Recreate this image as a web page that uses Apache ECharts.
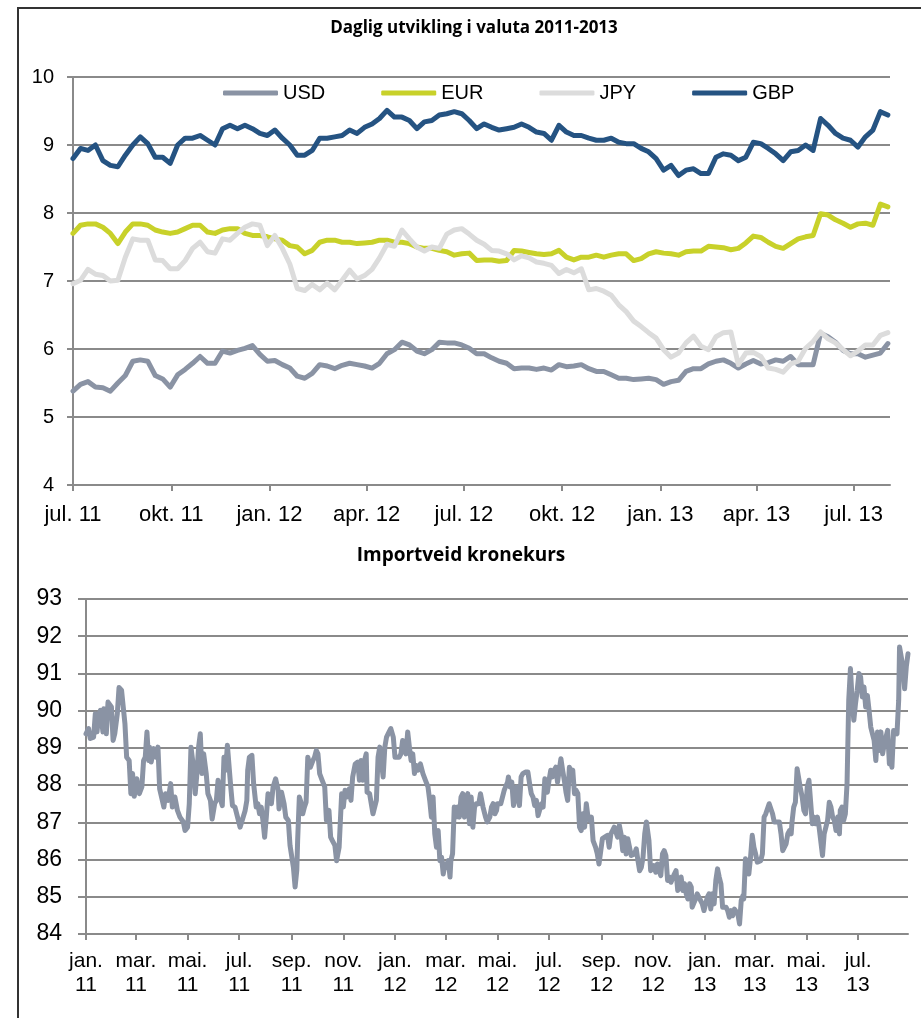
<!DOCTYPE html>
<html>
<head>
<meta charset="utf-8">
<script src="https://cdn.jsdelivr.net/npm/echarts@6/dist/echarts.min.js"></script>
<style>
  html, body { margin: 0; padding: 0; background: #fff; }
  #chart { width: 921px; height: 1018px; }
</style>
</head>
<body>
<div id="chart"></div>
<script>
  // ukentlige noteringer fra 1. juli 2011
  const weekStart = [2011, 6, 1];
  const usd = [
    5.38,5.48,5.52,5.44,5.43,5.38,5.50,5.61,5.82,5.84, 5.82,5.61,5.56,5.44,5.62,5.70,5.79,5.89,5.79,5.79,
    5.97,5.94,5.98,6.01,6.05,5.92,5.82,5.83,5.77,5.72, 5.60,5.57,5.64,5.77,5.75,5.71,5.76,5.79,5.77,5.75,
    5.72,5.79,5.93,5.99,6.10,6.06,5.97,5.93,5.99,6.10, 6.09,6.09,6.06,6.01,5.93,5.93,5.87,5.82,5.79,5.71,
    5.72,5.72,5.70,5.72,5.69,5.77,5.74,5.75,5.77,5.71, 5.67,5.67,5.62,5.57,5.57,5.55,5.56,5.57,5.55,5.48,
    5.52,5.54,5.67,5.71,5.71,5.78,5.82,5.84,5.79,5.72, 5.78,5.83,5.78,5.80,5.84,5.82,5.89,5.77,5.77,5.77,
    6.23,6.18,6.10,5.98,5.93,5.93,5.88,5.91,5.94,6.08
  ];
  const eur = [
    7.70,7.82,7.84,7.84,7.79,7.70,7.55,7.72,7.84,7.84, 7.82,7.75,7.72,7.70,7.72,7.77,7.82,7.82,7.72,7.70,
    7.75,7.77,7.77,7.70,7.67,7.67,7.65,7.62,7.60,7.52, 7.50,7.40,7.45,7.57,7.60,7.60,7.57,7.57,7.55,7.56,
    7.57,7.60,7.60,7.57,7.57,7.55,7.50,7.48,7.48,7.45, 7.43,7.38,7.40,7.41,7.30,7.31,7.31,7.29,7.30,7.45,
    7.44,7.42,7.40,7.39,7.40,7.45,7.35,7.31,7.35,7.35, 7.38,7.35,7.38,7.40,7.40,7.30,7.33,7.40,7.43,7.41,
    7.40,7.38,7.43,7.44,7.44,7.51,7.50,7.49,7.46,7.48, 7.56,7.66,7.64,7.57,7.51,7.48,7.55,7.62,7.65,7.67,
    7.99,7.97,7.90,7.85,7.79,7.84,7.85,7.82,8.13,8.09
  ];
  const jpy = [
    6.96,7.01,7.17,7.10,7.08,7.00,7.01,7.35,7.62,7.60, 7.60,7.31,7.30,7.18,7.18,7.30,7.48,7.57,7.43,7.41,
    7.62,7.60,7.70,7.79,7.84,7.82,7.52,7.67,7.48,7.25, 6.89,6.86,6.95,6.87,6.97,6.87,7.01,7.16,7.03,7.08,
    7.17,7.34,7.54,7.51,7.75,7.62,7.50,7.44,7.50,7.48, 7.69,7.75,7.77,7.69,7.60,7.54,7.45,7.44,7.40,7.31,
    7.37,7.34,7.28,7.26,7.23,7.11,7.17,7.12,7.18,6.87, 6.89,6.85,6.79,6.65,6.55,6.41,6.33,6.24,6.16,5.99,
    5.88,5.94,6.09,6.19,6.04,5.99,6.18,6.24,6.25,5.77, 5.94,5.95,5.89,5.72,5.70,5.66,5.78,5.82,6.01,6.11,
    6.25,6.15,6.09,5.99,5.90,5.97,6.06,6.06,6.20,6.24
  ];
  const gbp = [
    8.80,8.95,8.92,9.00,8.77,8.70,8.68,8.85,9.00,9.12, 9.02,8.82,8.82,8.73,9.00,9.10,9.10,9.14,9.07,9.00,
    9.24,9.29,9.24,9.29,9.24,9.17,9.14,9.22,9.10,9.00, 8.85,8.85,8.92,9.10,9.10,9.12,9.14,9.22,9.17,9.26,
    9.31,9.39,9.51,9.41,9.41,9.36,9.24,9.34,9.36,9.44, 9.46,9.49,9.46,9.36,9.24,9.31,9.26,9.22,9.24,9.26,
    9.31,9.26,9.19,9.17,9.07,9.29,9.19,9.14,9.14,9.10, 9.07,9.07,9.10,9.04,9.02,9.02,8.95,8.90,8.80,8.63,
    8.70,8.55,8.63,8.65,8.58,8.58,8.82,8.87,8.85,8.77, 8.82,9.04,9.02,8.95,8.87,8.77,8.90,8.92,9.00,8.92,
    9.39,9.29,9.17,9.10,9.07,8.97,9.12,9.22,9.49,9.44
  ];
  const currencyNames = ['USD', 'EUR', 'JPY', 'GBP'];
  const currencyTicks = ['2011-07','2011-10','2012-01','2012-04','2012-07','2012-10','2013-01','2013-04','2013-07'];

  // importveid kronekurs: dager etter 1. januar 2011 og indeksverdi
  const importDays = [
    0,3,5,9,11,13,15,17,20,21, 24,26,30,32,34,37,39,42,44,46, 48,51,53,55,57,60,63,66,68,70,
    72,74,75,77,80,83,85,87,89,92, 94,97,100,102,105,108,111,115,117,120, 122,124,127,129,131,133,135,137,139,142,
    144,147,149,152,154,156,158,161,163,165, 167,169,171,173,176,179,182,185,188,190, 191,193,196,198,201,203,205,207,209,211,
    213,215,217,219,221,224,227,228,231,234, 236,239,241,243,245,247,249,250,252,254, 256,258,260,262,265,268,270,272,274,276,
    279,282,284,287,289,291,294,296,299,302, 304,306,308,311,313,315,318,321,
    323,325,327,329,331,332,335,337,339,341, 343,345,347,349,351,353,355,357,360,363, 365,367,370,372,374,376,378,380,382,384,
    386,388,390,392,395,398,401,404,406,408, 410,412,414,416,418,420,422,424,426,428, 430,431,433,435,437,439,441,443,445,447,
    449,451,453,455,457,459,461,464,466,469, 472,474,477,479,481,483,485,486,490,494, 498,499,501,503,505,507,509,512,514,516,
    519,522,524,526,528,530,532,534,536,538, 540,542,544,545,547,549,551,553,555,557, 559,561,563,565,567,569,571,573,575,577,
    579,581,583,585,587,589,591,593,595,597, 599,601,602,604,606,608,610,612,616,618, 620,622,624,628,630,632,634,636,638,640,
    644,
    648,650,652,654,656,658,660,662,663,665, 667,669,671,673,675,677,679,681,683,685, 687,689,691,693,695,697,699,701,703,705,
    707,709,711,713,715,716,718,720,722,724, 726,728,730,732,734,736,738,740,742,744, 746,748,750,752,754,756,758,760,762,764,
    766,768,770,772,774,776,777,779,781,783, 785,787,789,791,793,795,797,799,801,803, 805,807,809,811,813,815,819,821,823,825,
    827,829,831,833,834,836,838,840,842,844, 846,848,850,852,854,856,858,860,862,864, 866,868,870,872,874,876,878,880,882,884,
    886,888,890,891,893,895,897,899,901,903, 905,907,909,911,913,915,917,919,921,923, 925,927,929,931,933,935,937,939,941,943,
    945,947,949,950,952,954,956,958,960,961, 963,965,967,969,971
  ];
  const importIndex = [
    89.38,89.52,89.25,89.29,89.92,89.43,89.88,90.01,89.43,90.05, 89.38,90.23,90.10,89.20,89.38,89.92,90.62,90.55,90.10,89.65,
    88.75,88.66,87.77,88.31,87.70,88.17,87.77,87.95,88.66,88.75, 89.43,88.66,89.02,88.62,88.98,88.75,89.02,87.90,87.86,87.41,
    87.77,87.59,88.04,87.41,87.68,87.32,87.14,87.01,86.78,86.87, 87.50,89.02,88.48,87.77,88.31,89.02,89.38,88.31,88.84,88.31,
    87.77,87.59,87.09,87.50,87.59,88.13,87.68,87.45,88.75,88.40, 89.07,89.02,87.95,87.45,87.41,87.14,86.87,87.09,87.32,87.59,
    88.40,88.75,88.80,88.04,87.41,87.50,87.23,87.41,87.05,86.60, 87.14,87.77,87.81,87.50,87.95,88.17,87.86,87.36,87.81,87.50,
    87.14,87.05,86.38,86.33,85.79,85.26,85.71,86.51,87.68,87.54, 87.23,87.41,87.54,88.75,88.48,88.66,88.75,88.93,88.84,88.31,
    88.13,87.95,87.05,87.32,86.60,86.51,86.38,85.97,86.33,87.77, 87.41,87.86,87.68,87.90,87.59,88.22,88.57,88.62,
    88.13,88.66,88.13,88.66,88.84,87.81,87.77,87.50,87.23,87.23, 87.59,88.75,89.02,89.02,88.22,89.02,89.29,89.38,89.52,89.29,
    88.75,88.80,88.75,88.84,89.20,89.20,88.84,89.43,89.02,88.66, 88.84,88.31,88.53,88.40,88.57,88.31,88.13,87.95,87.59,87.14,
    87.68,86.69,86.33,86.78,85.97,86.06,85.61,85.88,85.79,85.97, 85.53,85.97,86.15,87.41,87.14,87.41,87.14,87.68,87.77,87.14,
    87.68,87.77,86.96,87.68,86.87,87.41,87.50,87.50,87.77,87.41, 87.14,87.01,87.14,87.41,87.50,87.23,87.32,87.50,87.50,87.86,
    88.08,88.22,87.95,88.08,87.45,87.68,87.95,87.45,88.22,88.31, 88.35,88.35,88.04,87.77,87.68,87.45,87.59,87.18,87.23,87.50,
    87.41,88.17,88.04,87.81,88.13,88.40,88.22,88.40,88.48,88.08, 88.40,88.71,88.40,88.13,87.81,87.59,88.48,88.31,88.40,87.77,
    87.86,87.77,86.87,86.78,87.23,86.87,87.50,87.14,87.05,87.14, 86.51,86.51,86.33,86.15,85.88,85.88,86.56,86.60,86.65,86.33,
    86.69,86.78,86.87,86.60,86.92,86.69,86.24,86.60,86.15,86.56, 86.11,
    86.15,86.29,85.97,85.70,85.79,86.06,86.69,87.01,86.96,86.51, 85.70,85.70,85.84,85.66,85.88,85.70,85.57,86.15,86.24,86.11,
    85.44,85.53,85.39,85.44,85.61,85.70,85.17,85.26,85.53,85.17, 85.35,85.08,84.94,85.35,85.26,84.72,84.72,84.94,85.08,85.12,
    84.90,84.81,84.63,84.81,84.99,85.08,84.67,85.08,84.81,85.44, 85.75,85.53,85.35,84.72,84.67,84.72,84.63,84.45,84.63,84.49,
    84.67,84.72,84.54,84.27,84.90,85.03,84.94,86.02,86.06,85.61, 86.06,86.65,86.33,86.15,85.93,85.88,85.97,86.15,87.14,87.23,
    87.18,87.50,87.54,87.23,87.01,87.05,87.01,86.69,86.24,86.20, 86.42,86.69,86.78,86.69,87.01,87.41,87.54,88.44,88.40,87.90,
    87.68,87.32,87.23,87.95,88.13,87.54,86.96,87.14,86.96,87.14, 86.87,86.87,86.11,86.69,86.87,87.05,87.54,87.41,87.14,87.05,
    86.78,87.14,86.69,87.32,87.41,87.05,87.23,88.04,90.28,91.13, 90.28,89.74,90.19,90.55,91.00,90.91,90.37,90.64,90.10,90.41,
    90.01,89.56,89.61,89.20,88.66,89.43,88.93,89.43,88.84,89.11, 89.29,89.47,88.57,88.84,88.48,89.47,89.52,89.38,90.28,91.71,
    91.71,91.18,90.59,91.18,91.53
  ];
  const importTicks = ['2011-01','2011-03','2011-05','2011-07','2011-09','2011-11','2012-01','2012-03','2012-05','2012-07',
    '2012-09','2012-11','2013-01','2013-03','2013-05','2013-07'];

  const monthNames = ['jan.','feb.','mar.','apr.','mai.','jun.','jul.','aug.','sep.','okt.','nov.','des.'];
  const fontFamily = '"Liberation Sans", Arial, sans-serif';
  const titleFont = '"Open Sans", Lato, sans-serif';
  const gridColor = '#8a8a8a';
  const colors = ['#8a93a4', '#c8d12a', '#dcdcdc', '#255382'];

  function monthTs(s) {
    let p = s.split('-');
    return new Date(+p[0], +p[1] - 1, 1).getTime();
  }

  let weekly = [usd, eur, jpy, gbp].map(function (vals) {
    return vals.map(function (v, i) {
      return [new Date(weekStart[0], weekStart[1], weekStart[2] + 7 * i).getTime(), v];
    });
  });
  let importData = importDays.map(function (d, i) {
    return [new Date(2011, 0, 1 + d).getTime(), importIndex[i]];
  });

  let myChart = echarts.init(document.getElementById('chart'));

  let seriesTpl = {
    type: 'line',
    showSymbol: false,
    symbol: 'none'
  };

  let series = currencyNames.map(function (name, i) {
    return Object.assign({}, seriesTpl, {
      name: name,
      xAxisIndex: 0,
      yAxisIndex: 0,
      data: weekly[i],
      color: colors[i],
      lineStyle: { width: 5, color: colors[i], join: 'round', cap: 'round' }
    });
  });
  series.push(Object.assign({}, seriesTpl, {
    name: 'Importveid kronekurs',
    xAxisIndex: 1,
    yAxisIndex: 1,
    data: importData,
    color: colors[0],
    lineStyle: { width: 5, color: colors[0], join: 'round', cap: 'round' }
  }));

  function xAxisTpl(gridIndex, min, max, ticks, fmt, labelExtra) {
    return {
      type: 'value',
      gridIndex: gridIndex,
      min: min,
      max: max,
      axisLine: { lineStyle: { color: gridColor, width: 2 } },
      axisTick: { show: true, length: 6, lineStyle: { color: gridColor, width: 2 }, customValues: ticks },
      splitLine: { show: false },
      axisLabel: Object.assign({
        customValues: ticks,
        color: '#000',
        fontFamily: fontFamily,
        formatter: fmt
      }, labelExtra)
    };
  }

  let option = {
    animation: false,
    backgroundColor: '#fff',
    textStyle: { fontFamily: fontFamily, color: '#000' },
    graphic: [{
      type: 'rect',
      shape: { x: 18, y: 8, width: 1000, height: 1100 },
      style: { fill: 'none', stroke: '#333', lineWidth: 2 }
    }],
    title: [{
      text: 'Daglig utvikling i valuta 2011-2013',
      left: 474,
      top: 20,
      textAlign: 'center',
      padding: 0,
      textStyle: { fontFamily: titleFont, fontWeight: 'bold', fontSize: 17, color: '#000' }
    }, {
      text: 'Importveid kronekurs',
      left: 461,
      top: 546,
      textAlign: 'center',
      padding: 0,
      textStyle: { fontFamily: titleFont, fontWeight: 'bold', fontSize: 19, color: '#000' }
    }],
    legend: {
      data: currencyNames,
      left: 223,
      top: 83,
      padding: 0,
      icon: 'roundRect',
      itemWidth: 55,
      itemHeight: 5,
      itemGap: 56,
      textStyle: { fontFamily: fontFamily, fontSize: 20, color: '#000' }
    },
    grid: [
      { left: 73, right: 31, top: 77, height: 408 },
      { left: 86, right: 13, top: 599, height: 335 }
    ],
    xAxis: [
      xAxisTpl(0, new Date(2011, 6, 1).getTime(), new Date(2013, 7, 4).getTime(),
        currencyTicks.map(monthTs),
        function (v) {
          let d = new Date(v);
          return monthNames[d.getMonth()] + ' ' + String(d.getFullYear()).slice(2);
        },
        { margin: 19, fontSize: 22 }),
      xAxisTpl(1, new Date(2011, 0, 1).getTime(), new Date(2011, 0, 1 + 971).getTime(),
        importTicks.map(monthTs),
        function (v) {
          let d = new Date(v);
          return monthNames[d.getMonth()] + '\n' + String(d.getFullYear()).slice(2);
        },
        { margin: 15, fontSize: 21, lineHeight: 24 })
    ],
    yAxis: [{
      type: 'value',
      gridIndex: 0,
      min: 4,
      max: 10,
      interval: 1,
      axisLine: { show: true, lineStyle: { color: gridColor, width: 2 } },
      axisTick: { show: true, length: 6, lineStyle: { color: gridColor, width: 2 } },
      splitLine: { lineStyle: { color: gridColor, width: 2 } },
      axisLabel: { margin: 19, fontSize: 20, color: '#000', fontFamily: fontFamily }
    }, {
      type: 'value',
      gridIndex: 1,
      min: 84,
      max: 93,
      interval: 1,
      axisLine: { show: true, lineStyle: { color: gridColor, width: 2 } },
      axisTick: { show: true, length: 8, lineStyle: { color: gridColor, width: 2 } },
      splitLine: { lineStyle: { color: gridColor, width: 2 } },
      axisLabel: { margin: 24, fontSize: 23, color: '#000', fontFamily: fontFamily }
    }],
    series: series
  };

  myChart.setOption(option);
</script>
</body>
</html>
